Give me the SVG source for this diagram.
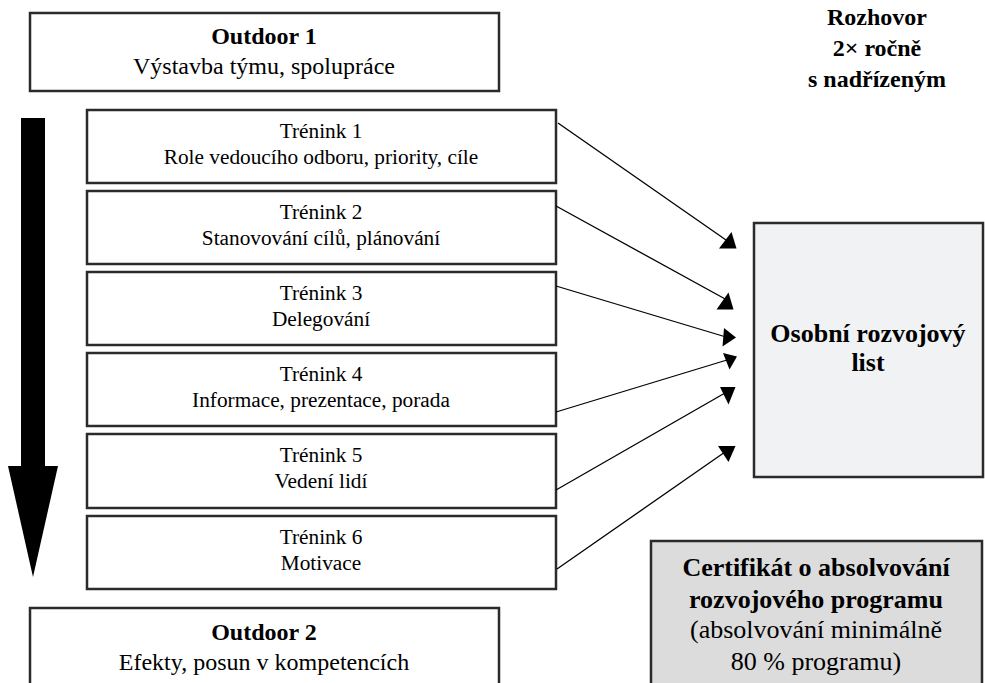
<svg xmlns="http://www.w3.org/2000/svg" width="985" height="683" viewBox="0 0 985 683">
  <style>
    .box { fill: #ffffff; stroke: #2b2b2b; stroke-width: 2.5; }
    .grey1 { fill: #f1f2f4; stroke: #2b2b2b; stroke-width: 2.5; }
    .grey2 { fill: #dcdcdc; stroke: #2b2b2b; stroke-width: 2.5; }
    text { font-family: "Liberation Serif", "Times New Roman", serif; fill: #000; text-anchor: middle; }
    .t { font-size: 21.3px; }
    .o { font-size: 24px; }
    .ob { font-size: 24px; font-weight: bold; }
    .big { font-size: 26px; font-weight: bold; }
    .cb { font-size: 26px; font-weight: bold; }
    .cr { font-size: 26px; }
    .rz { font-size: 24px; font-weight: bold; }
    .link { stroke: #000; stroke-width: 1.3; fill: none; }
    .head { fill: #000; }
  </style>

  <!-- timeline arrow -->
  <g id="timeline">
    <rect x="21" y="118" width="24" height="349" fill="#000"/>
    <polygon points="8,466 58,466 33,577" fill="#000"/>
  </g>

  <g id="outdoor1">
    <rect class="box" x="30" y="13" width="469" height="78"/>
    <text class="ob" x="264" y="44">Outdoor 1</text>
    <text class="o" x="264" y="74">Výstavba týmu, spolupráce</text>
  </g>

  <g id="trenink1">
    <rect class="box" x="87" y="110" width="469" height="73"/>
    <text class="t" x="321" y="138">Trénink 1</text>
    <text class="t" x="321" y="164">Role vedoucího odboru, priority, cíle</text>
  </g>
  <g id="trenink2">
    <rect class="box" x="87" y="191" width="469" height="73"/>
    <text class="t" x="321" y="219">Trénink 2</text>
    <text class="t" x="321" y="245">Stanovování cílů, plánování</text>
  </g>
  <g id="trenink3">
    <rect class="box" x="87" y="272" width="469" height="73"/>
    <text class="t" x="321" y="300">Trénink 3</text>
    <text class="t" x="321" y="326">Delegování</text>
  </g>
  <g id="trenink4">
    <rect class="box" x="87" y="353" width="469" height="73"/>
    <text class="t" x="321" y="381">Trénink 4</text>
    <text class="t" x="321" y="407">Informace, prezentace, porada</text>
  </g>
  <g id="trenink5">
    <rect class="box" x="87" y="434" width="469" height="74"/>
    <text class="t" x="321" y="462">Trénink 5</text>
    <text class="t" x="321" y="488">Vedení lidí</text>
  </g>
  <g id="trenink6">
    <rect class="box" x="87" y="516" width="469" height="73"/>
    <text class="t" x="321" y="544">Trénink 6</text>
    <text class="t" x="321" y="570">Motivace</text>
  </g>

  <g id="outdoor2">
    <rect class="box" x="30" y="608" width="469" height="90"/>
    <text class="ob" x="264" y="640">Outdoor 2</text>
    <text class="o" x="264" y="670">Efekty, posun v kompetencích</text>
  </g>

  <g id="rozhovor">
    <text class="rz" x="877" y="25">Rozhovor</text>
    <text class="rz" x="877" y="56">2× ročně</text>
    <text class="rz" x="877" y="87">s nadřízeným</text>
  </g>

  <g id="rozvojovy-list">
    <rect class="grey1" x="754" y="223" width="229" height="254"/>
    <text class="big" x="868" y="342">Osobní rozvojový</text>
    <text class="big" x="868" y="371">list</text>
  </g>

  <g id="certifikat">
    <rect class="grey2" x="651" y="541" width="331" height="160"/>
    <text class="cb" x="816" y="576">Certifikát o absolvování</text>
    <text class="cb" x="816" y="608">rozvojového programu</text>
    <text class="cr" x="816" y="638">(absolvování minimálně</text>
    <text class="cr" x="816" y="670">80 % programu)</text>
  </g>

  <!-- connectors from trainings to the development sheet -->
  <g id="connectors">
    <line class="link" x1="558" y1="123" x2="726" y2="240"/>
    <polygon class="head" points="731.5,232 719,248.5 736.5,248.5"/>
    <line class="link" x1="556" y1="206" x2="727" y2="300"/>
    <polygon class="head" points="728.5,292.5 716.5,309.5 733.5,309.5"/>
    <line class="link" x1="556" y1="286" x2="726" y2="337"/>
    <polygon class="head" points="724,328 736,337.5 722.5,346.5"/>
    <line class="link" x1="556" y1="412" x2="727" y2="360"/>
    <polygon class="head" points="723,353 737,356.5 729.5,369.5"/>
    <line class="link" x1="556" y1="490" x2="725" y2="393"/>
    <polygon class="head" points="720,387 735.5,387 728.5,404.5"/>
    <line class="link" x1="557" y1="569" x2="725" y2="452"/>
    <polygon class="head" points="718,446 735.5,446 728.5,462"/>
  </g>
</svg>
